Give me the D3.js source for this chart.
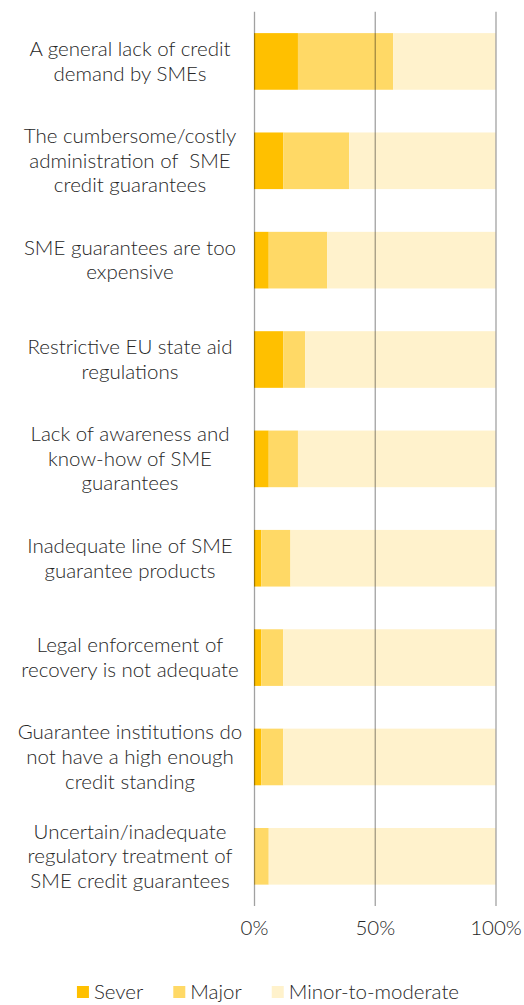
<!DOCTYPE html>
<html>
<head>
<meta charset="utf-8">
<script src="https://cdn.jsdelivr.net/npm/d3@7"></script>
<style>
  html, body { margin: 0; padding: 0; background: #fff; }
  svg { display: block; }
  text { font-family: Lato, "Open Sans", sans-serif; fill: #262626; font-weight: 300; }
</style>
</head>
<body>
<svg id="chart" width="524" height="1005"></svg>
<script>
// ---- data ----
const categories = [
  "A general lack of credit\ndemand by SMEs",
  "The cumbersome/costly\nadministration of  SME\ncredit guarantees",
  "SME guarantees are too\nexpensive",
  "Restrictive EU state aid\nregulations",
  "Lack of awareness and\nknow-how of SME\nguarantees",
  "Inadequate line of SME\nguarantee products",
  "Legal enforcement of\nrecovery is not adequate",
  "Guarantee institutions do\nnot have a high enough\ncredit standing",
  "Uncertain/inadequate\nregulatory treatment of\nSME credit guarantees"
];
const seriesNames = ["Sever", "Major", "Minor-to-moderate"];
const severe = [18.2, 12.1, 6.1, 12.1, 6.1, 3.0, 3.0, 3.0, 0.0];
const major  = [39.4, 27.3, 24.2, 9.1, 12.1, 12.1, 9.1, 9.1, 6.1];
const minor  = [42.4, 60.6, 69.7, 78.8, 81.8, 84.9, 87.9, 87.9, 93.9];
const tickValues = [0, 50, 100];
const tickLabels = ["0%", "50%", "100%"];
const colors = ["#FFC000", "#FFD966", "#FFF2CC"];

// ---- build ----
const rows = categories.map((c, i) => ({ cat: c, Sever: severe[i], Major: major[i], "Minor-to-moderate": minor[i] }));
const stack = d3.stack().keys(seriesNames)(rows);

const svg = d3.select("#chart");
const x = d3.scaleLinear().domain([0, 100]).range([254, 495.5]);
const y = d3.scaleBand().domain(categories).range([11.75, 906]).paddingInner(0.43).paddingOuter(0.215);
const color = d3.scaleOrdinal().domain(seriesNames).range(colors);

// bars
svg.append("g").selectAll("g").data(stack).join("g")
  .attr("fill", d => color(d.key))
  .selectAll("rect").data(d => d).join("rect")
  .attr("x", d => x(d[0]))
  .attr("width", d => Math.max(0, x(d[1]) - x(d[0])))
  .attr("y", d => y(d.data.cat))
  .attr("height", y.bandwidth());

// gridlines (on top, semi-transparent)
const xAxis = d3.axisBottom(x).tickValues(tickValues)
  .tickFormat((d, i) => tickLabels[i])
  .tickSize(-(906 - 11.75)).tickPadding(14);
const gx = svg.append("g").attr("transform", "translate(0,906)").call(xAxis);
gx.select(".domain").remove();
gx.selectAll(".tick line").attr("stroke", "#000").attr("stroke-opacity", 0.37).attr("stroke-width", 1.3);
gx.selectAll(".tick text").attr("font-size", 20.5).attr("font-family", "Lato, sans-serif").attr("fill", "#262626");

// category labels
const lab = svg.append("g").selectAll("text").data(categories).join("text")
  .attr("text-anchor", "middle")
  .attr("font-size", 20.5);
const lh = 24.6;
lab.each(function(c) {
  const lines = c.split("\n");
  const cy = y(c) + y.bandwidth() / 2 + 7;
  const t = d3.select(this);
  lines.forEach((ln, i) => {
    t.append("tspan").attr("x", 130)
      .attr("y", cy + (i - (lines.length - 1) / 2) * lh)
      .attr("xml:space", "preserve")
      .text(ln);
  });
});

// legend
const leg = svg.append("g");
const items = leg.selectAll("g").data(seriesNames).join("g");
items.append("rect").attr("width", 12).attr("height", 12).attr("y", 986).attr("fill", d => color(d));
items.append("text").attr("x", 17).attr("y", 999).attr("font-size", 20.5).text(d => d);
let cur = 0;
const offs = [];
items.each(function() {
  const w = d3.select(this).select("text").node().getComputedTextLength();
  offs.push(cur);
  cur += 17 + w + 30;
});
const total = cur - 30;
const startX = 268 - total / 2;
items.attr("transform", (d, i) => `translate(${startX + offs[i]},0)`);
</script>
</body>
</html>
